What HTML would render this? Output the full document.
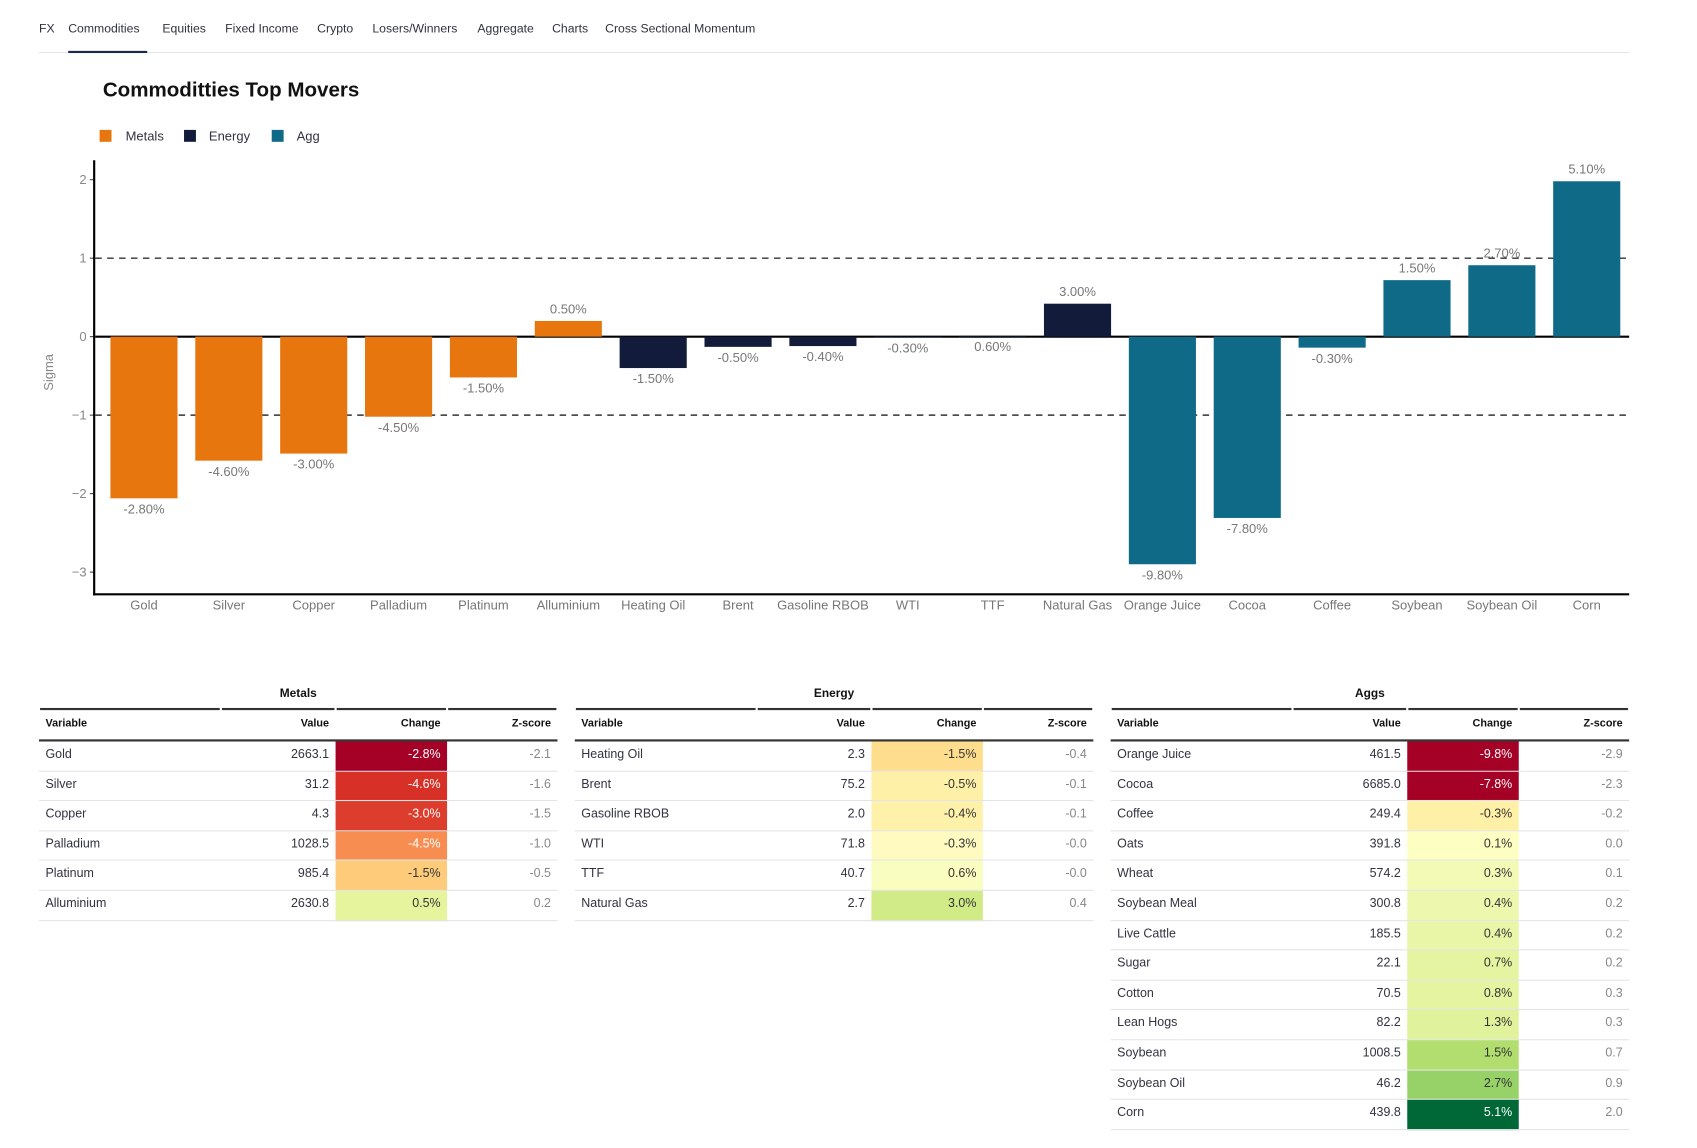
<!DOCTYPE html>
<html><head><meta charset="utf-8">
<style>
html,body{margin:0;padding:0;background:#fff;width:1697px;height:1148px;overflow:hidden}
#wrap{position:absolute;left:0;top:0;width:1545px;height:1046px;transform:scale(1.0825);transform-origin:0 0;font-family:"Liberation Sans",sans-serif;color:#31333f}
.nav{position:absolute;top:21px;font-size:11.3px;color:#31333f;white-space:nowrap}
.tbl{position:absolute;top:632px;width:479px;font-size:11.5px}
.tbl .cell{position:absolute;box-sizing:border-box;white-space:nowrap}
</style></head><body>
<div id="wrap">
  <div>
    <span class="nav" style="left:36px">FX</span>
    <span class="nav" style="left:63px">Commodities</span>
    <span class="nav" style="left:150px">Equities</span>
    <span class="nav" style="left:208px">Fixed Income</span>
    <span class="nav" style="left:293px">Crypto</span>
    <span class="nav" style="left:344px">Losers/Winners</span>
    <span class="nav" style="left:441px">Aggregate</span>
    <span class="nav" style="left:510px">Charts</span>
    <span class="nav" style="left:559px">Cross Sectional Momentum</span>
    <div style="position:absolute;left:36px;top:48px;width:1469px;height:1px;background:#e6e6ea"></div>
    <div style="position:absolute;left:63px;top:47px;width:73px;height:2px;background:#1b2a4a"></div>
  </div>
  <svg id="chart" width="1545" height="600" style="position:absolute;left:0;top:0" font-family="Liberation Sans, sans-serif">
    <text x="95" y="89" font-size="19" font-weight="bold" fill="#111">Commoditties Top Movers</text>
    <g font-size="12" fill="#31333f">
      <rect x="92" y="120" width="11" height="11" fill="#E8760F"/>
      <text x="116" y="130">Metals</text>
      <rect x="170" y="120" width="11" height="11" fill="#131B3A"/>
      <text x="193" y="130">Energy</text>
      <rect x="251" y="120" width="11" height="11" fill="#0E6A86"/>
      <text x="274" y="130">Agg</text>
    </g>
    <text transform="translate(49,344) rotate(-90)" text-anchor="middle" font-size="12" fill="#888">Sigma</text>
    <g id="plot"></g>
  </svg>
  <div id="tables"></div>
</div>
<script>
const categories=["Gold","Silver","Copper","Palladium","Platinum","Alluminium","Heating Oil","Brent","Gasoline RBOB","WTI","TTF","Natural Gas","Orange Juice","Cocoa","Coffee","Soybean","Soybean Oil","Corn"];
const groups=["Metals","Metals","Metals","Metals","Metals","Metals","Energy","Energy","Energy","Energy","Energy","Energy","Agg","Agg","Agg","Agg","Agg","Agg"];
const sigmaValues=[-2.06,-1.58,-1.49,-1.02,-0.52,0.2,-0.4,-0.13,-0.12,-0.01,0.01,0.42,-2.9,-2.31,-0.14,0.72,0.91,1.98];
const changeLabels=["-2.80%","-4.60%","-3.00%","-4.50%","-1.50%","0.50%","-1.50%","-0.50%","-0.40%","-0.30%","0.60%","3.00%","-9.80%","-7.80%","-0.30%","1.50%","2.70%","5.10%"];
const yTicks=[2,1,0,-1,-2,-3];
const refLines=[1,-1];

const colors={Metals:"#E8760F",Energy:"#131B3A",Agg:"#0E6A86"};
const NS="http://www.w3.org/2000/svg";
const plot=document.getElementById('plot');
const X0=93.8,X1=1505,band=(X1-X0)/categories.length;
const yScale=v=>311-v*72.5;
const xCenter=i=>X0+band*(i+0.5);
function mk(tag,attrs){const e=document.createElementNS(NS,tag);for(const k in attrs)e.setAttribute(k,attrs[k]);plot.appendChild(e);return e;}
yTicks.forEach(t=>{
  const tl=mk('text',{x:80,y:yScale(t)+4,'text-anchor':'end','font-size':12,fill:'#888'});
  tl.textContent=t===0?'0':(t<0?'\u2212'+(-t):String(t));
  
  
  const tk=mk('line',{x1:83,x2:87,y1:yScale(t),y2:yScale(t),stroke:'#444'});
  
  
});
refLines.forEach(r=>{
  const l=mk('line',{x1:88,x2:1505,y1:yScale(r),y2:yScale(r),stroke:'#333','stroke-width':1.3,'stroke-dasharray':'6,5'});
  
  
});
const zl=mk('line',{x1:88,x2:1505,y1:yScale(0),y2:yScale(0),stroke:'#000','stroke-width':2});


categories.forEach((c,i)=>{
  const v=sigmaValues[i],y0=yScale(0),y1=yScale(v);
  const b=mk('rect',{x:xCenter(i)-31,y:Math.min(y0,y1),width:62,height:Math.max(Math.abs(y1-y0),0.5),fill:colors[groups[i]]});
  
  
  const up=v>0.05;
  const lt=mk('text',{x:xCenter(i),y:up?y1-7:y1+14,'text-anchor':'middle','font-size':12,fill:'#777'});
  lt.textContent=changeLabels[i];
  
  
  const xl=mk('text',{x:xCenter(i),y:563,'text-anchor':'middle','font-size':12,fill:'#777'});
  xl.textContent=c;
  
  
});
const ya=mk('line',{x1:87,x2:87,y1:148,y2:550,stroke:'#000','stroke-width':2});


const xa=mk('line',{x1:86,x2:1505,y1:549,y2:549,stroke:'#000','stroke-width':2});



/* tables */
const metalsRows=[["Gold","2663.1","-2.8%","-2.1","#A50026","#fff"],["Silver","31.2","-4.6%","-1.6","#D73027","#fff"],["Copper","4.3","-3.0%","-1.5","#DC3D2D","#fff"],["Palladium","1028.5","-4.5%","-1.0","#F88D52","#fff"],["Platinum","985.4","-1.5%","-0.5","#FDCB7A","#333"],["Alluminium","2630.8","0.5%","0.2","#E6F59D","#333"]];
const energyRows=[["Heating Oil","2.3","-1.5%","-0.4","#FEDD8D","#333"],["Brent","75.2","-0.5%","-0.1","#FEF0A7","#333"],["Gasoline RBOB","2.0","-0.4%","-0.1","#FEF2AB","#333"],["WTI","71.8","-0.3%","-0.0","#FEFAC0","#333"],["TTF","40.7","0.6%","-0.0","#FAFDC0","#333"],["Natural Gas","2.7","3.0%","0.4","#D1EC86","#333"]];
const aggsRows=[["Orange Juice","461.5","-9.8%","-2.9","#A50026","#fff"],["Cocoa","6685.0","-7.8%","-2.3","#A50026","#fff"],["Coffee","249.4","-0.3%","-0.2","#FEF0A7","#333"],["Oats","391.8","0.1%","0.0","#FDFEC2","#333"],["Wheat","574.2","0.3%","0.1","#F3FAB6","#333"],["Soybean Meal","300.8","0.4%","0.2","#EDF8AE","#333"],["Live Cattle","185.5","0.4%","0.2","#E9F6A8","#333"],["Sugar","22.1","0.7%","0.2","#E4F4A0","#333"],["Cotton","70.5","0.8%","0.3","#E4F4A0","#333"],["Lean Hogs","82.2","1.3%","0.3","#E0F29C","#333"],["Soybean","1008.5","1.5%","0.7","#B1DE6F","#333"],["Soybean Oil","46.2","2.7%","0.9","#96D268","#333"],["Corn","439.8","5.1%","2.0","#006837","#fff"]];
const tdefs=[["Metals",36,metalsRows],["Energy",531,energyRows],["Aggs",1026,aggsRows]];
const colX=[0,168,274,377,479];
const hdrs=["Variable","Value","Change","Z-score"];
const RH=27.6;
const host=document.getElementById('tables');
function div(parent,style,text){const d=document.createElement('div');d.className='cell';d.style.cssText=style;if(text!==undefined)d.textContent=text;parent.appendChild(d);return d;}
tdefs.forEach(([name,left,rows])=>{
  const t=document.createElement('div');t.className='tbl';t.style.left=left+'px';
  
  
  host.appendChild(t);
  const g=div(t,'left:0;width:479px;top:3px;text-align:center;font-weight:bold;font-size:11px;color:#111',name);
  
  
  for(let c=0;c<4;c++){
    div(t,`left:${colX[c]+1}px;width:${colX[c+1]-colX[c]-2}px;top:22px;height:2px;background:#333`);
    const h=div(t,`left:${colX[c]}px;width:${colX[c+1]-colX[c]}px;top:31px;padding:0 6px;font-weight:bold;font-size:10px;color:#111;text-align:${c===0?'left':'right'}`,hdrs[c]);
    
    
  }
  div(t,'left:0;width:479px;top:51px;height:2px;background:#333');
  rows.forEach((r,i)=>{
    const top=53+i*RH;
    div(t,`left:${colX[2]}px;width:${colX[3]-colX[2]}px;top:${top}px;height:${RH}px;background:${r[4]}`);
    for(let c=0;c<4;c++){
      const col=c===3?'#888':(c===2?r[5]:'#31333f');
      const cell=div(t,`left:${colX[c]}px;width:${colX[c+1]-colX[c]}px;top:${top+6}px;padding:0 6px;color:${col};text-align:${c===0?'left':'right'}`,r[c]);
      
      
    }
    div(t,`left:0;width:479px;top:${top+RH-1}px;height:1px;background:#e4e4e8`);
  });
});
</script>
</body></html>
